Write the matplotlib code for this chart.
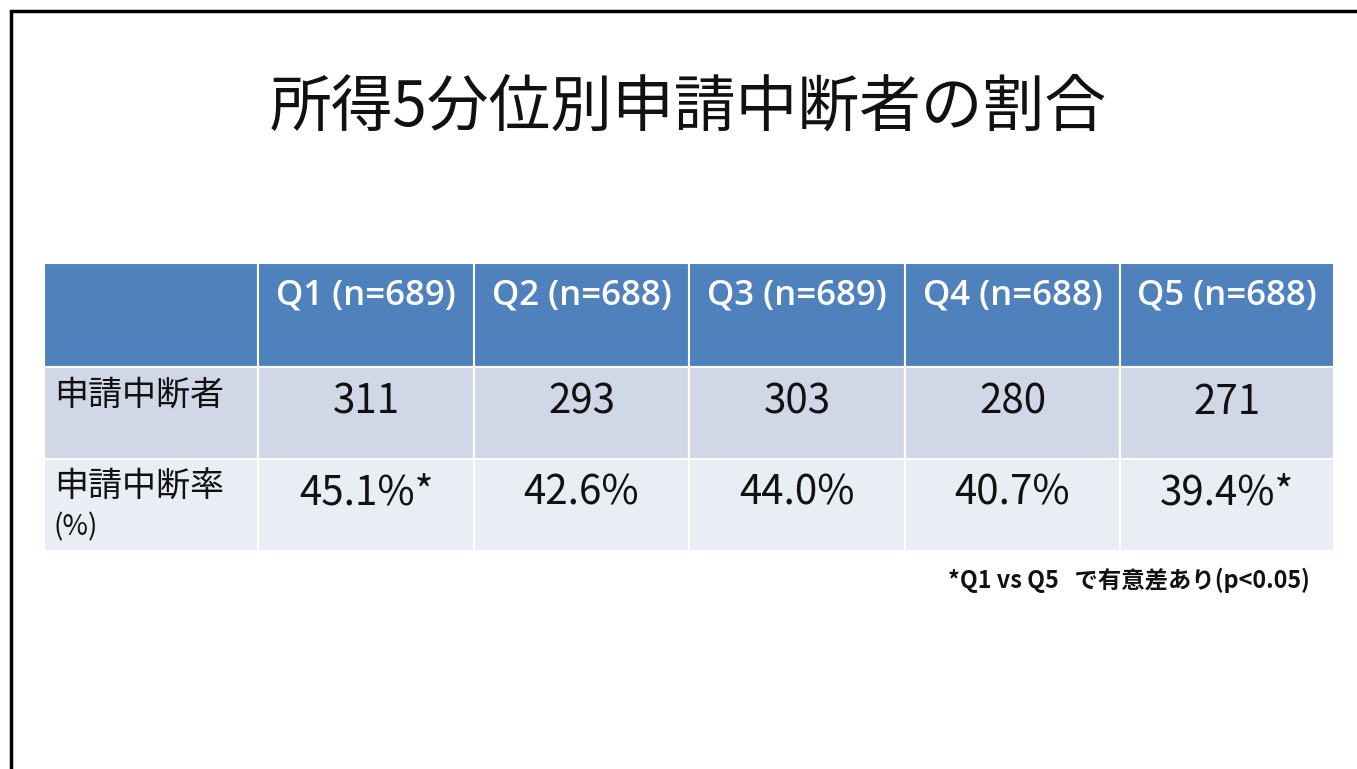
import matplotlib.pyplot as plt
from matplotlib.patches import Rectangle

plt.rcParams['font.family'] = ['Noto Sans CJK JP', 'DejaVu Sans']

# table contents
title = '所得5分位別申請中断者の割合'
quintiles = ['Q1', 'Q2', 'Q3', 'Q4', 'Q5']
n_sizes = [689, 688, 689, 688, 688]
dropouts = [311, 293, 303, 280, 271]
rates = [45.1, 42.6, 44.0, 40.7, 39.4]
significant = [True, False, False, False, True]
row_labels = ['申請中断者', '申請中断率']
footnote = '*Q1 vs Q5   で有意差あり(p<0.05)'

W, H = 1357, 769
fig = plt.figure(figsize=(W / 100, H / 100), dpi=100)
ax = fig.add_axes([0, 0, 1, 1])
ax.set_xlim(0, W)
ax.set_ylim(H, 0)
ax.axis('off')

# slide border (only top and left visible)
ax.plot([11, 11, W + 5], [H + 5, 11, 11], color='black', lw=2.5, solid_joinstyle='miter')

ax.text(688, 107, title, ha='center', va='center', fontsize=44.5, color='#111111')

# table layout
col_edges = [44, 258, 474, 689, 905, 1120, 1334]
row_edges = [263, 367, 459, 551]
row_colors = ['#4F81BD', '#D0D8E8', '#E9EDF4']

for r in range(3):
    for c in range(6):
        x0, x1 = col_edges[c], col_edges[c + 1]
        y0, y1 = row_edges[r], row_edges[r + 1]
        ax.add_patch(Rectangle((x0, y0), x1 - x0, y1 - y0, facecolor=row_colors[r],
                               edgecolor='white', lw=1.5))

# header
for i, (q, n) in enumerate(zip(quintiles, n_sizes)):
    xc = (col_edges[i + 1] + col_edges[i + 2]) / 2
    ax.text(xc, 295, f'{q} (n={n})', ha='center', va='center', color='white',
            fontsize=25, family=['Open Sans', 'DejaVu Sans'], fontweight='semibold')

# row labels
ax.text(54, 395, row_labels[0], ha='left', va='center', fontsize=24.5, color='#111111')
ax.text(54, 487, row_labels[1], ha='left', va='center', fontsize=24.5, color='#111111')
ax.text(53, 527, '(%)', ha='left', va='center', fontsize=20, color='#111111')

# values
for i in range(5):
    xc = (col_edges[i + 1] + col_edges[i + 2]) / 2
    ax.text(xc, 402, str(dropouts[i]), ha='center', va='center', fontsize=29, color='#111111')
    lab = f'{rates[i]:.1f}%' + ('*' if significant[i] else '')
    ax.text(xc, 493, lab, ha='center', va='center', fontsize=29, color='#111111')

ax.text(1310, 580, footnote, ha='right', va='center', fontsize=16.8, fontweight='bold',
        color='#111111')

fig.savefig('out.png', dpi=100)
